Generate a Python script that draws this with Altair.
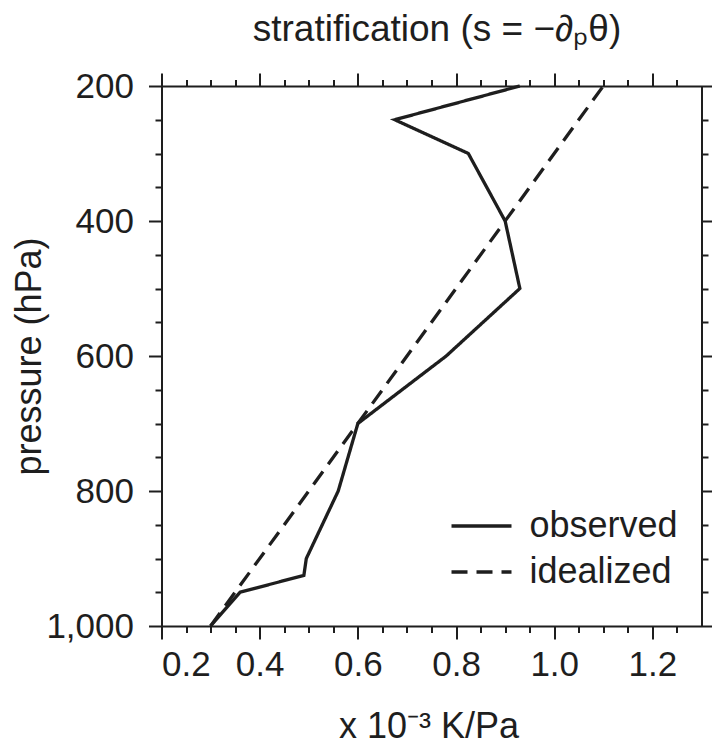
import altair as alt
import pandas as pd

# Observed static stability profile (x 10^-3 K/Pa) against pressure (hPa)
pressure_obs = [200, 250, 300, 400, 500, 600, 700, 800, 900, 925, 950, 1000]
strat_obs = [0.93, 0.675, 0.825, 0.90, 0.93, 0.78, 0.60, 0.56, 0.495, 0.49, 0.36, 0.30]

# Idealized (linear) profile
pressure_ideal = [1000, 200]
strat_ideal = [0.30, 1.10]

series_names = ["observed", "idealized"]

# Axis tick positions
x_major = [0.2, 0.4, 0.6, 0.8, 1.0, 1.2]
x_minor = [0.25, 0.3, 0.35, 0.45, 0.5, 0.55, 0.65, 0.7, 0.75,
           0.85, 0.9, 0.95, 1.05, 1.1, 1.15, 1.25]
y_major = [200, 400, 600, 800, 1000]
y_minor = [250, 300, 350, 450, 500, 550, 650, 700, 750, 850, 900, 950]

profiles = pd.concat([
    pd.DataFrame({"p": pressure_obs, "s": strat_obs, "series": series_names[0]}),
    pd.DataFrame({"p": pressure_ideal, "s": strat_ideal, "series": series_names[1]}),
], ignore_index=True)

FONT = "Liberation Sans"
INK = "#1e1e1e"
W, H = 540, 540

x_scale = alt.Scale(domain=[0.2, 1.3], nice=False, zero=False)
y_scale = alt.Scale(domain=[200, 1000], reverse=True, nice=False, zero=False)


def axis(orient, values, size, labels=False, **kw):
    base = dict(
        orient=orient, values=values, tickSize=size, tickWidth=2,
        tickColor=INK, grid=False, labels=labels, domain=False, title=None,
    )
    base.update(kw)
    return alt.Axis(**base)


dom = dict(domain=True, domainColor=INK, domainWidth=2)
title_style = dict(titleFont=FONT, titleFontSize=36, titleFontWeight="normal",
                   titleColor=INK, titleAlign="center", titleBaseline="alphabetic")

# Lines + labelled bottom/left axes
lines = alt.Chart(profiles).mark_line(strokeWidth=3.3, color=INK).encode(
    x=alt.X("s:Q", scale=x_scale, axis=axis(
        "bottom", x_major, 13, labels=True, format=".1f",
        labelFont=FONT, labelFontSize=35, labelColor=INK, labelPadding=8,
        title="x 10⁻³ K/Pa", titleX=267, titleY=111, **title_style, **dom)),
    y=alt.Y("p:Q", scale=y_scale, axis=axis(
        "left", y_major, 13, labels=True, format=",d",
        labelFont=FONT, labelFontSize=35, labelColor=INK, labelPadding=15,
        title="pressure (hPa)", titleAngle=270, titleX=-121, titleY=270,
        **title_style, **dom)),
    strokeDash=alt.StrokeDash(
        "series:N",
        scale=alt.Scale(domain=series_names, range=[[1, 0], [16, 9]]),
        legend=alt.Legend(
            title=None, orient="none", legendX=302, legendY=422,
            symbolType="M-2,0H2", symbolSize=900, symbolStrokeWidth=3.3,
            symbolStrokeColor=INK, symbolFillColor="transparent",
            labelFont=FONT, labelFontSize=36, labelColor=INK,
            labelOffset=30, rowPadding=10, padding=0,
        ),
    ),
    order=alt.Order("p:Q", sort="descending"),
)

# Top/right frame axes; the top one carries the chart heading
heading_style = dict(title_style, titleFontSize=37)
frame_tr = alt.Chart(profiles).mark_point(opacity=0, size=1).encode(
    x=alt.X("s:Q", scale=x_scale, axis=axis(
        "top", x_major, 13, title="stratification (s = −∂ₚθ)",
        titleX=275, titleY=-46, **heading_style, **dom)),
    y=alt.Y("p:Q", scale=y_scale, axis=axis("right", y_major, 13, **dom)),
)
# Minor ticks on every side
minor_bl = alt.Chart(profiles).mark_point(opacity=0, size=1).encode(
    x=alt.X("s:Q", scale=x_scale, axis=axis("bottom", x_minor, 6.5)),
    y=alt.Y("p:Q", scale=y_scale, axis=axis("left", y_minor, 6.5)),
)
minor_tr = alt.Chart(profiles).mark_point(opacity=0, size=1).encode(
    x=alt.X("s:Q", scale=x_scale, axis=axis("top", x_minor, 6.5)),
    y=alt.Y("p:Q", scale=y_scale, axis=axis("right", y_minor, 6.5)),
)

chart = alt.layer(lines, frame_tr, minor_bl, minor_tr).resolve_axis(
    x="independent", y="independent"
).properties(
    width=W,
    height=H,
    autosize=alt.AutoSizeParams(type="none"),
    padding={"left": 161.5, "top": 86, "right": 10.5, "bottom": 118},
).configure_view(stroke=None).configure(background="white")

chart.save("out.html", embed_options={"renderer": "svg", "actions": False})
